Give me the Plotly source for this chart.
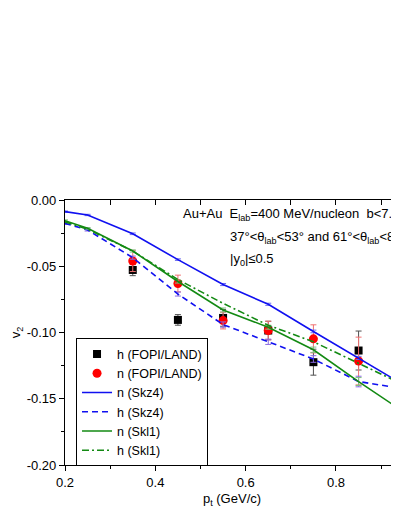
import plotly.graph_objects as go

# ---- data ----
x_model = [0.20, 0.25, 0.35, 0.45, 0.55, 0.65, 0.75, 0.85, 0.95]
n_skz4 = [-0.0088, -0.0113, -0.0255, -0.0450, -0.0638, -0.0787, -0.0992, -0.1192, -0.1395]
n_skz4_err = [0.0005, 0.0005, 0.0006, 0.0006, 0.0008, 0.0008, 0.0010, 0.0012, 0.0012]
h_skz4 = [-0.0176, -0.0226, -0.0435, -0.0710, -0.0940, -0.1070, -0.1200, -0.1370, -0.1425]
h_skz4_err = [0.0008, 0.0008, 0.0012, 0.0015, 0.0020, 0.0020, 0.0025, 0.0040, 0.0040]
n_skl1 = [-0.0156, -0.0214, -0.0385, -0.0615, -0.0830, -0.0960, -0.1130, -0.1370, -0.1600]
n_skl1_err = [0.0006, 0.0006, 0.0008, 0.0012, 0.0015, 0.0015, 0.0020, 0.0030, 0.0030]
h_skl1 = [-0.0165, -0.0220, -0.0385, -0.0600, -0.0780, -0.0945, -0.1070, -0.1230, -0.1395]

x_data = [0.35, 0.45, 0.55, 0.65, 0.75, 0.85]
h_fopi = [-0.0528, -0.0905, -0.0890, -0.0985, -0.1224, -0.1136]
h_fopi_err = [0.0043, 0.0040, 0.0063, 0.0070, 0.0098, 0.0147]
n_fopi = [-0.0460, -0.0630, -0.0910, -0.0985, -0.1048, -0.1215]
n_fopi_err = [0.0080, 0.0063, 0.0063, 0.0070, 0.0106, 0.0180]

x_ticks = [0.2, 0.4, 0.6, 0.8]
x_ticktext = ["0.2", "0.4", "0.6", "0.8"]
x_minor = [0.3, 0.5, 0.7, 0.9]
x_top_ticks = [0.2, 0.3, 0.4, 0.5, 0.6, 0.7, 0.8, 0.9]
y_ticks = [0.00, -0.05, -0.10, -0.15, -0.20]
y_ticktext = ["0.00", "-0.05", "-0.10", "-0.15", "-0.20"]
y_minor = [-0.025, -0.075, -0.125, -0.175]

FONT = "Liberation Sans, Arial, sans-serif"
BLUE = "#1010f0"
GREEN = "#138a13"

fig = go.Figure()

# data points
fig.add_trace(go.Scatter(
    x=x_data, y=h_fopi, mode="markers", name="h (FOPI/LAND)", legendrank=1,
    marker=dict(symbol="square", size=8, color="black"),
    error_y=dict(type="data", array=h_fopi_err, color="#505050", thickness=1, width=3),
))
fig.add_trace(go.Scatter(
    x=x_data, y=n_fopi, mode="markers", name="n (FOPI/LAND)", legendrank=2,
    marker=dict(symbol="circle", size=9, color="#ff0000"),
    error_y=dict(type="data", array=n_fopi_err, color="#f07070", thickness=1, width=3),
))

# model curves
fig.add_trace(go.Scatter(
    x=x_model, y=n_skz4, mode="lines", name="n (Skz4)", legendrank=3,
    line=dict(color=BLUE, width=1.6),
    error_y=dict(type="data", array=n_skz4_err, color="#6a6af0", thickness=1, width=3),
))
fig.add_trace(go.Scatter(
    x=x_model, y=h_skz4, mode="lines", name="h (Skz4)", legendrank=4,
    line=dict(color=BLUE, width=1.6, dash="6px,4px"),
    error_y=dict(type="data", array=h_skz4_err, color="#8a6ae0", thickness=1, width=3),
))
fig.add_trace(go.Scatter(
    x=x_model, y=n_skl1, mode="lines", name="n (Skl1)", legendrank=5,
    line=dict(color=GREEN, width=1.6),
    error_y=dict(type="data", array=n_skl1_err, color="#80c080", thickness=1, width=3),
))
fig.add_trace(go.Scatter(
    x=x_model, y=h_skl1, mode="lines", name="h (Skl1)", legendrank=6,
    line=dict(color=GREEN, width=1.6, dash="7px,3px,2px,3px"),
))
# empty trace to bring the top axis to life
fig.add_trace(go.Scatter(x=[], y=[], xaxis="x2", showlegend=False, hoverinfo="skip"))

axis_font = dict(family=FONT, size=13, color="black")

# page body has an 8px default margin: size the figure so the page does not scroll
fig.update_layout(
    width=391, height=500,
    margin=dict(l=57, r=0, t=192, b=43),
    paper_bgcolor="white", plot_bgcolor="white",
    font=dict(family=FONT, size=12, color="black"),
    showlegend=True,
    legend=dict(
        x=0.033, y=0.478, xanchor="left", yanchor="top",
        bordercolor="black", borderwidth=1, bgcolor="white",
        font=dict(family=FONT, size=12.5, color="black"),
        traceorder="normal",
    ),
    xaxis=dict(
        range=[0.2, 0.9395], showgrid=False, zeroline=False,
        showline=True, linecolor="black", linewidth=1.2,
        tickmode="array", tickvals=x_ticks, ticktext=x_ticktext,
        ticks="outside", ticklen=5, tickwidth=1.2, tickcolor="black",
        minor=dict(tickmode="array", tickvals=x_minor, ticks="outside", ticklen=3,
                   tickwidth=1, tickcolor="black", showgrid=False),
        tickfont=axis_font,
        title=dict(text="p<sub>t</sub> (GeV/c)", font=axis_font, standoff=8),
    ),
    xaxis2=dict(
        range=[0.2, 0.9395], overlaying="x", side="top", anchor="y",
        showgrid=False, zeroline=False, showline=True, linecolor="black", linewidth=1.2,
        tickmode="array", tickvals=x_top_ticks, ticks="inside", ticklen=5,
        tickwidth=1.2, tickcolor="black", showticklabels=False,
    ),
    yaxis=dict(
        range=[-0.2, 0.0], showgrid=False, zeroline=False,
        showline=True, linecolor="black", linewidth=1.2,
        tickmode="array", tickvals=y_ticks, ticktext=y_ticktext,
        ticks="outside", ticklen=5, tickwidth=1.2, tickcolor="black",
        minor=dict(tickmode="array", tickvals=y_minor, ticks="outside", ticklen=3,
                   tickwidth=1, tickcolor="black", showgrid=False),
        tickfont=axis_font,
        title=dict(text="v<sub>2</sub>", font=axis_font, standoff=8),
    ),
)

text_font = dict(family=FONT, size=13, color="black")
fig.add_annotation(
    xref="paper", yref="paper", x=0.347, y=0.947, xanchor="left", yanchor="middle",
    text="Au+Au  E<sub>lab</sub>=400 MeV/nucleon  b&lt;7.5 fm", showarrow=False, font=text_font,
)
fig.add_annotation(
    xref="paper", yref="paper", x=0.488, y=0.860, xanchor="left", yanchor="middle",
    text="37°&lt;θ<sub>lab</sub>&lt;53° and 61°&lt;θ<sub>lab</sub>&lt;85°", showarrow=False, font=text_font,
)
fig.add_annotation(
    xref="paper", yref="paper", x=0.488, y=0.774, xanchor="left", yanchor="middle",
    text="|y<sub>0</sub>|≤0.5", showarrow=False, font=text_font,
)

fig.write_html("out.html")
